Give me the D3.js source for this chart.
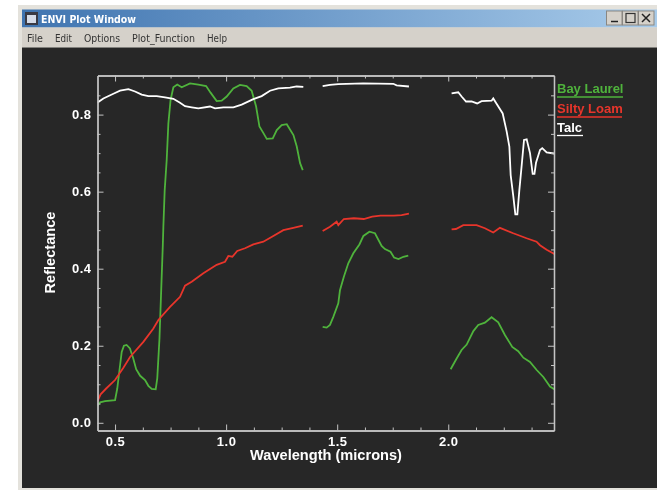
<!DOCTYPE html>
<html>
<head>
<meta charset="utf-8">
<script src="https://cdn.jsdelivr.net/npm/d3@7"></script>
<style>
html, body { margin: 0; padding: 0; background: #fff; overflow: hidden; }
text { font-family: "Liberation Sans", sans-serif; }
svg { filter: blur(0.3px); }
</style>
</head>
<body>
<div id="chart"></div>
<script>
// spectra as [wavelength, reflectance], three segments each (water absorption gaps)
var bayLaurel1 = [[.42,.044],[.433,.053],[.455,.056],[.50,.059],[.51,.089],[.52,.137],[.53,.184],[.54,.2],[.552,.202],[.567,.193],[.582,.167],[.595,.139],[.613,.122],[.635,.111],[.65,.096],[.665,.088],[.683,.087],[.69,.115],[.70,.219],[.707,.332],[.715,.461],[.7175,.509],[.7235,.604],[.7325,.682],[.74,.777],[.75,.838],[.7625,.871],[.78,.878],[.80,.871],[.8375,.881],[.875,.878],[.91,.874],[.93,.857],[.9575,.835],[.98,.836],[1.0025,.847],[1.0325,.868],[1.0625,.877],[1.0925,.874],[1.115,.862],[1.135,.821],[1.15,.769],[1.168,.752],[1.183,.737],[1.21,.738],[1.228,.76],[1.25,.773],[1.273,.775],[1.303,.747],[1.318,.717],[1.333,.674],[1.345,.656]];
var bayLaurel2 = [[1.4345,.249],[1.4525,.247],[1.4675,.254],[1.4825,.275],[1.505,.31],[1.5125,.344],[1.53,.379],[1.55,.414],[1.5726,.44],[1.6,.463],[1.618,.485],[1.645,.496],[1.67,.492],[1.7,.459],[1.715,.451],[1.74,.444],[1.756,.429],[1.776,.425],[1.798,.431],[1.82,.434]];
var bayLaurel3 = [[2.0107,.139],[2.0377,.167],[2.06,.189],[2.083,.203],[2.113,.238],[2.135,.254],[2.165,.26],[2.195,.274],[2.225,.261],[2.255,.228],[2.288,.197],[2.315,.186],[2.338,.169],[2.368,.158],[2.398,.137],[2.428,.119],[2.458,.094],[2.477,.087]];

var siltyLoam1 = [[.42,.055],[.435,.074],[.46,.089],[.50,.111],[.5375,.143],[.5675,.171],[.6275,.21],[.6725,.245],[.695,.267],[.7475,.301],[.7925,.327],[.815,.356],[.845,.366],[.8975,.388],[.9575,.41],[.995,.418],[1.01,.433],[1.028,.431],[1.05,.446],[1.085,.453],[1.1225,.463],[1.1675,.47],[1.2125,.485],[1.2575,.5],[1.3025,.506],[1.345,.512]];
var siltyLoam2 = [[1.4345,.498],[1.4675,.509],[1.4975,.522],[1.505,.513],[1.53,.529],[1.575,.531],[1.62,.529],[1.6575,.535],[1.695,.538],[1.755,.538],[1.79,.539],[1.823,.543]];
var siltyLoam3 = [[2.015,.502],[2.0345,.503],[2.0675,.513],[2.1275,.513],[2.165,.505],[2.2025,.494],[2.2325,.506],[2.2925,.492],[2.3525,.479],[2.3975,.47],[2.413,.461],[2.443,.449],[2.4775,.438]];

var talc1 = [[.42,.831],[.4475,.842],[.4925,.854],[.5225,.862],[.56,.866],[.59,.86],[.62,.852],[.65,.848],[.6875,.848],[.725,.845],[.7625,.841],[.7925,.831],[.815,.822],[.845,.819],[.875,.816],[.9275,.821],[.95,.816],[.9875,.819],[1.0325,.819],[1.07,.826],[1.1225,.84],[1.16,.848],[1.1975,.862],[1.235,.868],[1.2875,.87],[1.3175,.873],[1.3475,.872]];
var talc2 = [[1.4345,.874],[1.4675,.877],[1.505,.879],[1.6175,.881],[1.7525,.88],[1.7675,.876],[1.823,.873]];
var talc3 = [[2.015,.855],[2.045,.858],[2.06,.847],[2.08,.834],[2.105,.834],[2.13,.829],[2.15,.835],[2.195,.836],[2.2025,.842],[2.2175,.828],[2.245,.803],[2.263,.756],[2.275,.717],[2.281,.643],[2.293,.587],[2.302,.541],[2.311,.541],[2.32,.604],[2.33,.665],[2.341,.734],[2.353,.736],[2.368,.7],[2.38,.646],[2.388,.646],[2.395,.675],[2.413,.708],[2.423,.713],[2.443,.702],[2.477,.699]];

var xTicks = [0.5, 1.0, 1.5, 2.0];
var yTicks = [0.0, 0.2, 0.4, 0.6, 0.8];
var xMinor = [0.625, 0.75, 0.875, 1.125, 1.25, 1.375, 1.625, 1.75, 1.875, 2.125, 2.25, 2.375];
var yMinor = [0.05, 0.1, 0.15, 0.25, 0.3, 0.35, 0.45, 0.5, 0.55, 0.65, 0.7, 0.75, 0.85];
var menuItems = ["File", "Edit", "Options", "Plot_Function", "Help"];
var menuX = [27, 55, 84, 132, 207];
var menuW = [16, 17, 36, 63, 20];

var series = [
    {name: "Bay Laurel", color: "#4fb33c", segments: [bayLaurel1, bayLaurel2, bayLaurel3]},
    {name: "Silty Loam", color: "#e8352b", segments: [siltyLoam1, siltyLoam2, siltyLoam3]},
    {name: "Talc", color: "#ffffff", segments: [talc1, talc2, talc3]}
];

var width = 657, height = 490;
var svg = d3.select("#chart").append("svg")
    .attr("width", width)
    .attr("height", height)
    .style("display", "block");

// window chrome
svg.append("rect").attr("x", 18).attr("y", 5).attr("width", 639).attr("height", 485).attr("fill", "#e4e2dc");
var grad = svg.append("defs").append("linearGradient").attr("id", "titlebar");
grad.append("stop").attr("offset", "0%").attr("stop-color", "#3f74b0");
grad.append("stop").attr("offset", "100%").attr("stop-color", "#a8cbea");
svg.append("rect").attr("x", 22).attr("y", 9.5).attr("width", 635).attr("height", 18).attr("fill", "url(#titlebar)");
svg.append("rect").attr("x", 22).attr("y", 27.5).attr("width", 635).attr("height", 20).attr("fill", "#d5d1ca");
svg.append("rect").attr("x", 22).attr("y", 47.5).attr("width", 635).attr("height", 440.5).attr("fill", "#272727");

// title icon
svg.append("rect").attr("x", 25).attr("y", 12).attr("width", 13).attr("height", 13).attr("fill", "#3a3a44");
svg.append("rect").attr("x", 27).attr("y", 15).attr("width", 9).attr("height", 8).attr("fill", "#d6dce8");
svg.append("text").attr("x", 41).attr("y", 22.5)
    .attr("font-size", 10.5).attr("font-weight", "bold").attr("fill", "#fff")
    .style("font-family", "'DejaVu Sans', sans-serif").attr("textLength", 95).attr("lengthAdjust", "spacingAndGlyphs")
    .text("ENVI Plot Window");

svg.selectAll(".menu").data(menuItems).enter().append("text")
    .attr("class", "menu")
    .attr("x", function(d, i) { return menuX[i]; })
    .attr("y", 41.5)
    .attr("font-size", 10.5)
    .attr("fill", "#333")
    .style("font-family", "'DejaVu Sans', sans-serif")
    .attr("textLength", function(d, i) { return menuW[i]; })
    .attr("lengthAdjust", "spacingAndGlyphs")
    .text(function(d) { return d; });

// min / max / close buttons
var buttons = ["_", "\u25a1", "\u00d7"];
svg.selectAll(".btn").data(buttons).enter().append("rect")
    .attr("class", "btn")
    .attr("x", function(d, i) { return 606.5 + i * 16; })
    .attr("y", 11)
    .attr("width", 15.5)
    .attr("height", 14)
    .attr("fill", "#d5d1ca")
    .attr("stroke", "#8a8782");
svg.append("path").attr("d", "M611 21.5h7").attr("stroke", "#222").attr("stroke-width", 1.5);
svg.append("rect").attr("x", 626).attr("y", 13.5).attr("width", 9).attr("height", 9).attr("fill", "none").attr("stroke", "#333").attr("stroke-width", 1.2);
svg.append("path").attr("d", "M642 14l8 8M650 14l-8 8").attr("stroke", "#222").attr("stroke-width", 1.5);

// plot
var x = d3.scaleLinear().domain([0.421, 2.476]).range([97.5, 554]);
var y = d3.scaleLinear().domain([-0.02, 0.9015]).range([430.5, 75.5]);

svg.append("clipPath").attr("id", "plotclip").append("rect")
    .attr("x", 97.5).attr("y", 75.5).attr("width", 456.5).attr("height", 355);

var line = d3.line()
    .x(function(d) { return x(d[0]); })
    .y(function(d) { return y(d[1]); });

series.forEach(function(s) {
    svg.append("g").attr("clip-path", "url(#plotclip)")
        .selectAll("path").data(s.segments).enter().append("path")
        .attr("d", line)
        .attr("fill", "none")
        .attr("stroke", s.color)
        .attr("stroke-width", 1.8);
});

var axisColor = "#c4c4c4";
function styleAxis(g) {
    g.select(".domain").attr("stroke", axisColor).attr("stroke-width", 1.3);
    g.selectAll(".tick line").attr("stroke", axisColor);
}
function tickLabels(g) {
    g.selectAll(".tick text")
        .attr("fill", "#fff")
        .attr("font-size", 13)
        .attr("font-weight", "bold")
        .style("letter-spacing", "0.5px")
        .style("font-family", "'Liberation Sans', sans-serif");
}

var fmt = d3.format(".1f");
var xb = svg.append("g").attr("transform", "translate(0,430.5)");
xb.call(d3.axisBottom(x).tickValues(xTicks).tickSize(-6).tickSizeOuter(0).tickFormat(fmt).tickPadding(6));
var xbm = svg.append("g").attr("transform", "translate(0,430.5)");
xbm.call(d3.axisBottom(x).tickValues(xMinor).tickSize(-3).tickSizeOuter(0).tickFormat(""));
var xt = svg.append("g").attr("transform", "translate(0,75.5)");
xt.call(d3.axisTop(x).tickValues(xTicks).tickSize(-6).tickSizeOuter(0).tickFormat(""));
var xtm = svg.append("g").attr("transform", "translate(0,75.5)");
xtm.call(d3.axisTop(x).tickValues(xMinor).tickSize(-3).tickSizeOuter(0).tickFormat(""));
var yl = svg.append("g").attr("transform", "translate(97.5,0)");
yl.call(d3.axisLeft(y).tickValues(yTicks).tickSize(-6).tickSizeOuter(0).tickFormat(fmt).tickPadding(6));
var ylm = svg.append("g").attr("transform", "translate(97.5,0)");
ylm.call(d3.axisLeft(y).tickValues(yMinor).tickSize(-3).tickSizeOuter(0).tickFormat(""));
var yr = svg.append("g").attr("transform", "translate(554,0)");
yr.call(d3.axisRight(y).tickValues(yTicks).tickSize(-6).tickSizeOuter(0).tickFormat(""));
var yrm = svg.append("g").attr("transform", "translate(554,0)");
yrm.call(d3.axisRight(y).tickValues(yMinor).tickSize(-3).tickSizeOuter(0).tickFormat(""));
[xb, xbm, xt, xtm, yl, ylm, yr, yrm].forEach(function(g) { styleAxis(g); tickLabels(g); });

svg.append("text").attr("x", 326).attr("y", 460).attr("text-anchor", "middle")
    .attr("fill", "#fff").attr("font-size", 14.6).attr("font-weight", "bold")
    .text("Wavelength (microns)");
svg.append("text").attr("transform", "translate(55,252.5) rotate(-90)").attr("text-anchor", "middle")
    .attr("fill", "#fff").attr("font-size", 14.6).attr("font-weight", "bold")
    .text("Reflectance");

// legend
var legendY = [93, 113, 131.5];
var legendW = [66, 65, 26];
var legend = svg.selectAll(".legend").data(series).enter().append("g").attr("class", "legend");
legend.append("text")
    .attr("x", 557)
    .attr("y", function(d, i) { return legendY[i]; })
    .attr("fill", function(d) { return d.color; })
    .attr("font-size", 13)
    .attr("font-weight", "bold")
    .text(function(d) { return d.name; });
legend.append("line")
    .attr("x1", 557)
    .attr("x2", function(d, i) { return 557 + legendW[i]; })
    .attr("y1", function(d, i) { return legendY[i] + 4; })
    .attr("y2", function(d, i) { return legendY[i] + 4; })
    .attr("stroke", function(d) { return d.color; })
    .attr("stroke-width", 1.3);
</script>
</body>
</html>
